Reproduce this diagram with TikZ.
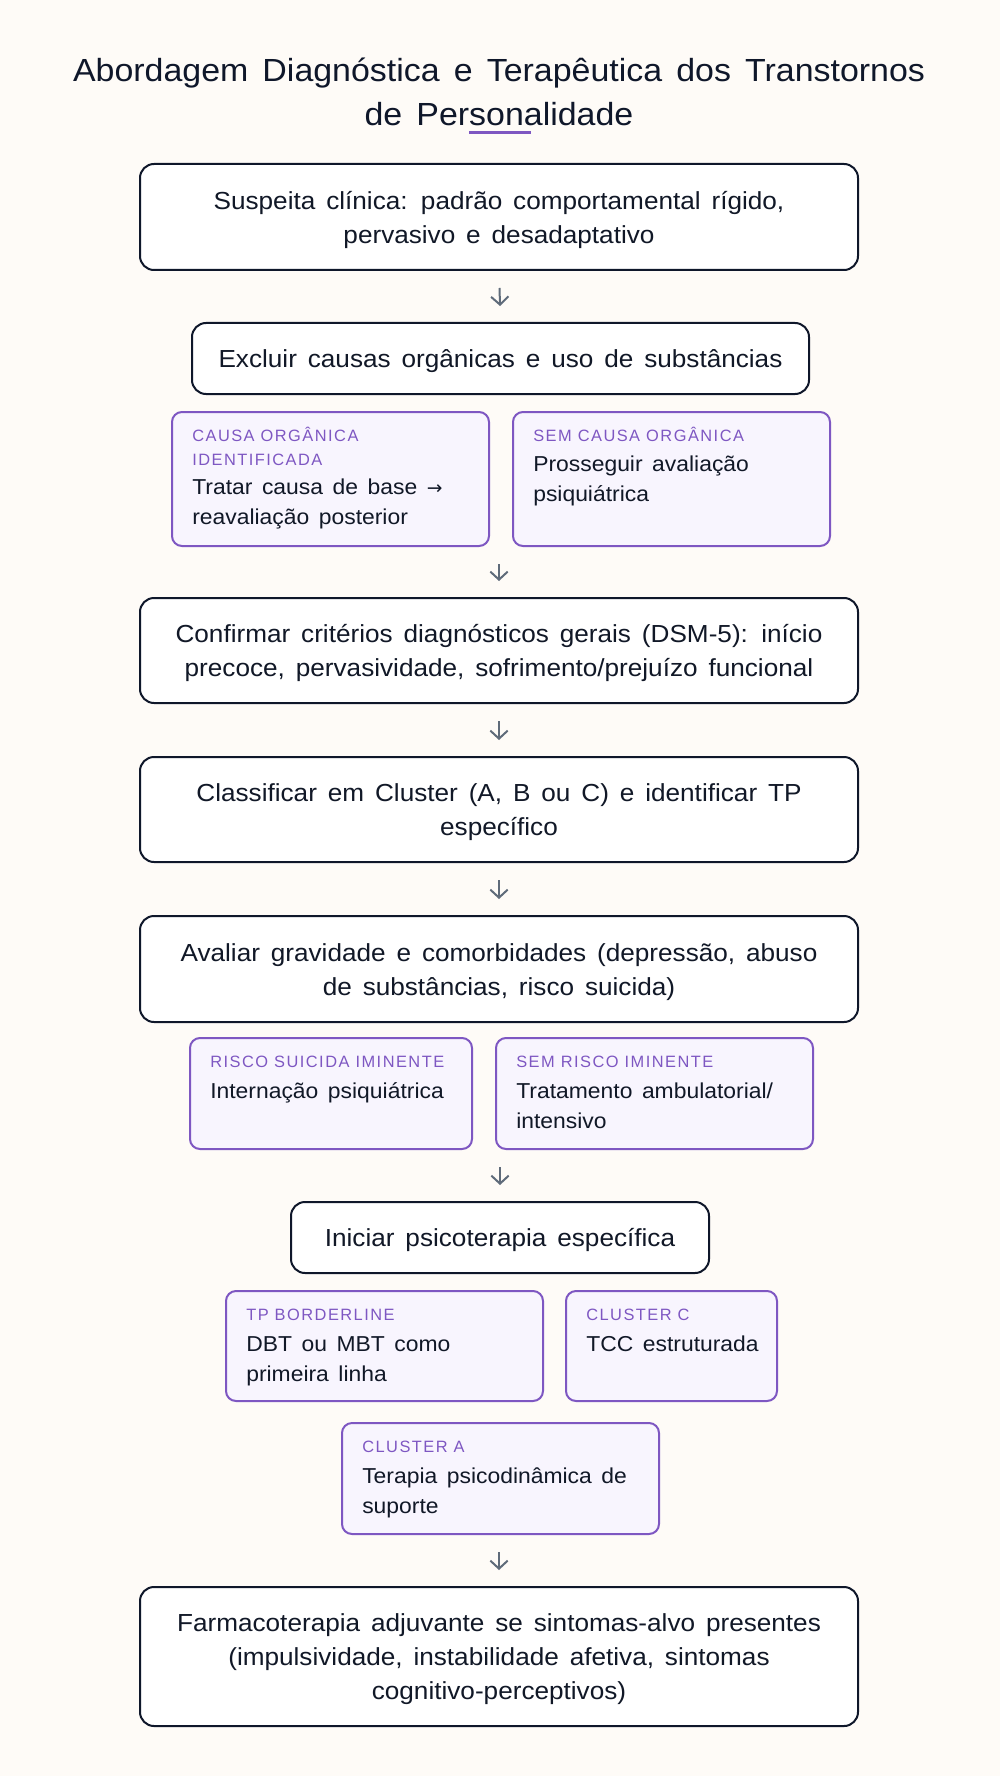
\documentclass[tikz,border=0pt]{standalone}
\usepackage{fontspec}
\setmainfont{Liberation Sans}[FakeStretch=1.06, WordSpace=1.5]
\newfontfamily\lblfont{Liberation Sans}[LetterSpace=9]
\newfontfamily\symfont{DejaVu Sans}
\usetikzlibrary{arrows.meta,calc}
\definecolor{bg}{HTML}{FEFBF7}
\definecolor{navy}{HTML}{0F172A}
\definecolor{ink}{HTML}{111827}
\definecolor{purp}{HTML}{7E57C2}
\definecolor{lav}{HTML}{F8F5FE}
\definecolor{arrowgray}{HTML}{5F6B7A}
\newcommand\mstrut{\rule{0pt}{17.5pt}}
\tikzset{
  mainbox/.style={draw=navy, line width=1.5pt, fill=white, rounded corners=10.5pt,
    align=center, text=ink, font=\fontsize{18.5}{25.5}\selectfont, inner sep=0pt},
  subbox/.style={draw=purp, line width=1.5pt, fill=lav, rounded corners=7.5pt,
    inner sep=0pt, anchor=north west},
  lbl/.style={anchor=base west, align=left, text=purp,
    font=\lblfont\fontsize{12.3}{18}\selectfont, inner sep=0pt},
  body/.style={anchor=base west, align=left, text=ink,
    font=\fontsize{16.2}{22.5}\selectfont, inner sep=0pt},
  flow/.style={draw=arrowgray, line width=1.5pt, -{Straight Barb[length=6pt,width=13pt]},
    shorten <=12.75pt, shorten >=12pt},
  accent/.style={draw=purp, line width=2.25pt},
}
\begin{document}
\begin{tikzpicture}[x=0.75pt,y=-0.75pt]
\fill[bg] (0,0) rectangle (1000,1776);
\useasboundingbox (0,0) rectangle (1000,1776);

% title (base = baseline of last line)
\node[anchor=base, align=center, text=navy, inner sep=0pt,
  font=\fontsize{24}{33}\selectfont] (title) at (499,126)
  {Abordagem Diagnóstica e Terapêutica dos Transtornos\\de Personalidade};
\draw[accent] (469,133) -- (531,133);

% main boxes
\node[mainbox, minimum width=718*0.75pt, minimum height=106*0.75pt] (b1) at (499,217)
  {\mstrut Suspeita clínica: padrão comportamental rígido,\\pervasivo e desadaptativo};
\node[mainbox, minimum width=617*0.75pt, minimum height=71*0.75pt] (b2) at (500.5,358.5)
  {\mstrut Excluir causas orgânicas e uso de substâncias};
\node[mainbox, minimum width=718*0.75pt, minimum height=105*0.75pt] (b3) at (499,650.5)
  {\mstrut Confirmar critérios diagnósticos gerais (DSM-5): início\\precoce, pervasividade, sofrimento/prejuízo funcional};
\node[mainbox, minimum width=718*0.75pt, minimum height=105*0.75pt] (b4) at (499,809.5)
  {\mstrut Classificar em Cluster (A, B ou C) e identificar TP\\específico};
\node[mainbox, minimum width=718*0.75pt, minimum height=106*0.75pt] (b5) at (499,969)
  {\mstrut Avaliar gravidade e comorbidades (depressão, abuso\\de substâncias, risco suicida)};
\node[mainbox, minimum width=418*0.75pt, minimum height=71*0.75pt] (b6) at (500,1237.5)
  {\mstrut Iniciar psicoterapia específica};
\node[mainbox, minimum width=718*0.75pt, minimum height=139*0.75pt] (b7) at (499,1656.5)
  {\mstrut Farmacoterapia adjuvante se sintomas-alvo presentes\\(impulsividade, instabilidade afetiva, sintomas\\cognitivo-perceptivos)};

% sub boxes row 1 (text nodes anchored at the baseline of their last line)
\node[subbox, minimum width=317*0.75pt, minimum height=134*0.75pt] (s1a) at (171,411) {};
\node[lbl] (s1alab) at ($(s1a.north west)+(21,54)$) {CAUSA ORGÂNICA\\IDENTIFICADA};
\node[body] (s1abody) at ($(s1a.north west)+(21,113)$) {Tratar causa de base {\symfont\fontsize{14}{14}\selectfont →}\\reavaliação posterior};
\node[subbox, minimum width=317*0.75pt, minimum height=134*0.75pt] (s1b) at (512,411) {};
\node[lbl] (s1blab) at ($(s1b.north west)+(21,30)$) {SEM CAUSA ORGÂNICA};
\node[body] (s1bbody) at ($(s1b.north west)+(21,90)$) {Prosseguir avaliação\\psiquiátrica};

% sub boxes row 2
\node[subbox, minimum width=282*0.75pt, minimum height=111*0.75pt] (s2a) at (189,1037) {};
\node[lbl] (s2alab) at ($(s2a.north west)+(21,30)$) {RISCO SUICIDA IMINENTE};
\node[body] (s2abody) at ($(s2a.north west)+(21,61)$) {Internação psiquiátrica};
\node[subbox, minimum width=317*0.75pt, minimum height=111*0.75pt] (s2b) at (495,1037) {};
\node[lbl] (s2blab) at ($(s2b.north west)+(21,30)$) {SEM RISCO IMINENTE};
\node[body] (s2bbody) at ($(s2b.north west)+(21,91)$) {Tratamento ambulatorial/\\intensivo};

% sub boxes row 3
\node[subbox, minimum width=317*0.75pt, minimum height=110*0.75pt] (s3a) at (225,1290) {};
\node[lbl] (s3alab) at ($(s3a.north west)+(21,30)$) {TP BORDERLINE};
\node[body] (s3abody) at ($(s3a.north west)+(21,91)$) {DBT ou MBT como\\primeira linha};
\node[subbox, minimum width=211*0.75pt, minimum height=110*0.75pt] (s3b) at (565,1290) {};
\node[lbl] (s3blab) at ($(s3b.north west)+(21,30)$) {CLUSTER C};
\node[body] (s3bbody) at ($(s3b.north west)+(21,61)$) {TCC estruturada};

% sub box row 4
\node[subbox, minimum width=317*0.75pt, minimum height=111*0.75pt] (s4) at (341,1422) {};
\node[lbl] (s4lab) at ($(s4.north west)+(21,30)$) {CLUSTER A};
\node[body] (s4body) at ($(s4.north west)+(21,91)$) {Terapia psicodinâmica de\\suporte};

% connectors
\draw[flow] (b1.south) -- (b2.north);
\draw[flow] (b3.north |- s1a.south) -- (b3.north);
\draw[flow] (b3.south) -- (b4.north);
\draw[flow] (b4.south) -- (b5.north);
\draw[flow] (b6.north |- s2a.south) -- (b6.north);
\draw[flow] (b7.north |- s4.south) -- (b7.north);
\end{tikzpicture}
\end{document}
